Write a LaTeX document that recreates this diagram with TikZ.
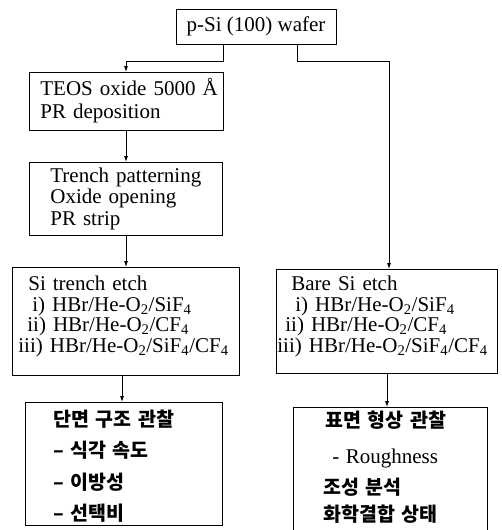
\documentclass[tikz,border=0pt]{standalone}
\usepackage{fontspec}
\setmainfont{Liberation Serif}
\newfontfamily\kr[WordSpace=2]{Noto Sans CJK KR}
\usetikzlibrary{arrows.meta}
\begin{document}
\begin{tikzpicture}[x=1pt,y=-1pt,
  box/.style={draw, line width=0.8pt, inner sep=0pt, align=left, anchor=north west},
  arr/.style={line width=0.8pt, -{Latex[length=6pt,width=4pt]}},
  latin/.style={font=\fontsize{21}{#1}\selectfont},
  korean/.style={font=\kr\bfseries\fontsize{19.5}{#1}\selectfont}
]
\useasboundingbox (0,0) rectangle (501,530);

\node[draw, line width=0.8pt, minimum width=160pt, minimum height=35pt, inner sep=0pt, latin=23] (top) at (256,26.5) {p-Si (100) wafer};

\node[box, text width=194pt, text height=23pt, text depth=35pt, latin=23] (teos) at (29,72)
  {\hspace*{11pt}TEOS oxide 5000 Å\\\hspace*{11pt}PR deposition};

\node[box, text width=193pt, text height=20pt, text depth=53pt, latin=21.5] (trench) at (29,162)
  {\hspace*{21pt}Trench patterning\\\hspace*{21pt}Oxide opening\\\hspace*{21pt}PR strip};

\node[box, text width=227pt, text height=23pt, text depth=85pt, latin=20.7] (etchL) at (12,267)
  {\hspace*{16pt}Si trench etch\\
   \hspace*{20pt}i) HBr/He-O\textsubscript{2}/SiF\textsubscript{4}\\
   \hspace*{15pt}ii) HBr/He-O\textsubscript{2}/CF\textsubscript{4}\\
   \hspace*{6pt}iii) HBr/He-O\textsubscript{2}/SiF\textsubscript{4}/CF\textsubscript{4}};

\node[box, text width=221pt, text height=21pt, text depth=83pt, latin=20.7] (etchR) at (276,269)
  {\hspace*{15pt}Bare Si etch\\
   \hspace*{19pt}i) HBr/He-O\textsubscript{2}/SiF\textsubscript{4}\\
   \hspace*{9pt}ii) HBr/He-O\textsubscript{2}/CF\textsubscript{4}\\
   \hspace*{1pt}iii) HBr/He-O\textsubscript{2}/SiF\textsubscript{4}/CF\textsubscript{4}};

\node[box, text width=197pt, text height=24pt, text depth=99pt, korean=31.3] (obsL) at (25,402)
  {\hspace*{28pt}단면 구조 관찰\\\hspace*{28pt}– 식각 속도\\\hspace*{28pt}– 이방성\\\hspace*{28pt}– 선택비};

\node[box, text width=194pt, text height=20pt, text depth=140pt, korean=31] (obsR) at (293,407)
  {\hspace*{32pt}표면 형상 관찰\\[5pt]
   \hspace*{39pt}{\normalfont\fontsize{21}{20}\selectfont - Roughness}\\
   \hspace*{30pt}조성 분석\\[-4pt]
   \hspace*{30pt}화학결합 상태};

\coordinate (jl) at (126,61);
\coordinate (jr) at (389,61);
\coordinate (cl) at (122,0);
\coordinate (cr) at (387,0);

\draw[arr] ([xshift=-33pt]top.south) |- (jl) -- (jl |- teos.north);
\draw[arr] ([xshift=41pt]top.south) |- (jr) -- (jr |- etchR.north);
\draw[arr] (teos.south -| jl) -- (trench.north -| jl);
\draw[arr] (trench.south -| jl) -- (etchL.north -| jl);
\draw[arr] (etchL.south -| cl) -- (obsL.north -| cl);
\draw[arr] (etchR.south -| cr) -- (obsR.north -| cr);
\end{tikzpicture}
\end{document}
